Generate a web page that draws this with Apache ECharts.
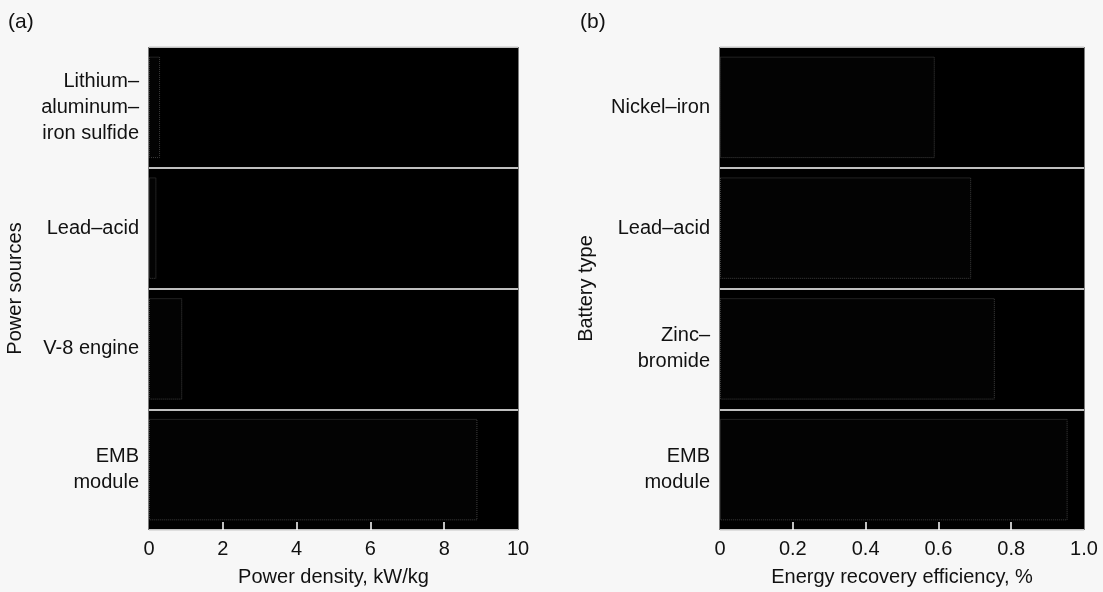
<!DOCTYPE html>
<html><head><meta charset="utf-8">
<script src="https://cdn.jsdelivr.net/npm/echarts@6/dist/echarts.min.js"></script>
<style>html,body{margin:0;padding:0;background:#f7f7f7}#c{width:1103px;height:592px}</style>
</head><body><div id="c"></div>
<script>
const powerSources = ['Lithium–\naluminum–\niron sulfide', 'Lead–acid', 'V-8 engine', 'EMB\nmodule'];
const powerDensity = [0.3, 0.2, 0.9, 8.9];
const batteryTypes = ['Nickel–iron', 'Lead–acid', 'Zinc–\nbromide', 'EMB\nmodule'];
const efficiency = [0.59, 0.69, 0.755, 0.955];
const powerTicks = [0, 2, 4, 6, 8, 10];
const powerInnerTicks = [2, 4, 6, 8];
const effTicks = [0, 0.2, 0.4, 0.6, 0.8, 1.0];
const effTickLabels = ['0', '0.2', '0.4', '0.6', '0.8', '1.0'];
const effInnerTicks = [0.2, 0.4, 0.6, 0.8];

const font = 'Liberation Sans, Arial, Helvetica, sans-serif';
const chart = echarts.init(document.getElementById('c'));
function xAx(idx, max, interval, name, labelVals, tickVals, fmt) {
  return {
    type: 'value', gridIndex: idx, min: 0, max: max, interval: interval,
    name: name, nameLocation: 'middle', nameGap: 37,
    nameTextStyle: {fontFamily: font, fontSize: 20, color: '#111'},
    axisLine: {show: false},
    axisTick: {show: true, inside: true, length: 8, customValues: tickVals,
               lineStyle: {color: '#fff', width: 1.5}},
    axisLabel: {fontFamily: font, fontSize: 20, color: '#111', margin: 9,
                customValues: labelVals, formatter: fmt},
    splitLine: {show: false}
  };
}
function yAx(idx, cats, name, gap) {
  return {
    type: 'category', gridIndex: idx, data: cats, inverse: true,
    name: name, nameLocation: 'middle', nameGap: gap, nameRotate: 90,
    nameTextStyle: {fontFamily: font, fontSize: 20, color: '#111'},
    axisLine: {show: false}, axisTick: {show: false},
    axisLabel: {fontFamily: font, fontSize: 20, color: '#111', margin: 10, lineHeight: 26, align: 'right'},
    splitLine: {show: true, lineStyle: {color: '#ffffff', width: 1.5}}
  };
}
const tStyle = {fontFamily: font, fontSize: 21, fontWeight: 'normal', color: '#111'};
chart.setOption({
  animation: false,
  backgroundColor: '#f7f7f7',
  title: [
    {text: '(a)', left: 8, top: 12, padding: 0, textStyle: tStyle},
    {text: '(b)', left: 580, top: 12, padding: 0, textStyle: tStyle}
  ],
  grid: [
    {left: 149, top: 47, width: 369, height: 486, show: true, backgroundColor: '#000', borderColor: '#000', borderWidth: 1},
    {left: 720, top: 47, width: 364, height: 486, show: true, backgroundColor: '#000', borderColor: '#000', borderWidth: 1}
  ],
  xAxis: [
    xAx(0, 10, 2, 'Power density, kW/kg', powerTicks, powerInnerTicks, v => String(v)),
    xAx(1, 1, 0.2, 'Energy recovery efficiency, %', effTicks, effInnerTicks,
        v => effTickLabels[Math.round(v / 0.2)])
  ],
  yAxis: [
    yAx(0, powerSources, 'Power sources', 124),
    yAx(1, batteryTypes, 'Battery type', 124)
  ],
  series: [
    {type: 'bar', xAxisIndex: 0, yAxisIndex: 0, data: powerDensity, barCategoryGap: '16%',
     itemStyle: {color: '#030303', borderColor: '#404040', borderWidth: 1, borderType: 'dotted'}},
    {type: 'bar', xAxisIndex: 1, yAxisIndex: 1, data: efficiency, barCategoryGap: '16%',
     itemStyle: {color: '#030303', borderColor: '#404040', borderWidth: 1, borderType: 'dotted'}}
  ]
});
</script></body></html>
